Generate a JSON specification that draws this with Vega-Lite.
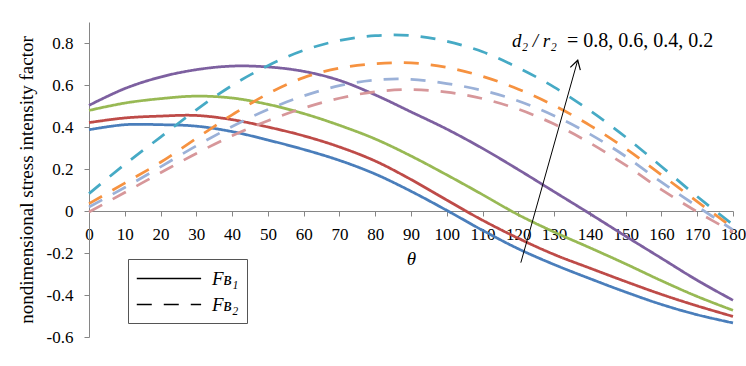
{
  "$schema": "https://vega.github.io/schema/vega-lite/v6.json",
  "width": 644,
  "height": 315,
  "autosize": {"type": "none"},
  "padding": {"left": 89, "top": 22, "right": 13, "bottom": 29},
  "background": "white",
  "config": {
    "view": {"stroke": null},
    "font": "Liberation Serif",
    "axis": {
      "grid": false,
      "domainColor": "#868686",
      "tickColor": "#868686",
      "labelColor": "#000000",
      "titleColor": "#000000",
      "labelFont": "Liberation Serif",
      "titleFont": "Liberation Serif",
      "labelFontSize": 17,
      "titleFontWeight": "normal",
      "labelFlush": false,
      "labelOverlap": false
    }
  },
  "resolve": {"axis": {"x": "independent"}},
  "datasets": {
    "curves": [
      {"theta": 0, "value": 0.387, "series": "FB1 0.8", "factor": "F_B1"},
      {"theta": 10, "value": 0.411, "series": "FB1 0.8", "factor": "F_B1"},
      {"theta": 20, "value": 0.411, "series": "FB1 0.8", "factor": "F_B1"},
      {"theta": 30, "value": 0.404, "series": "FB1 0.8", "factor": "F_B1"},
      {"theta": 40, "value": 0.378, "series": "FB1 0.8", "factor": "F_B1"},
      {"theta": 50, "value": 0.338, "series": "FB1 0.8", "factor": "F_B1"},
      {"theta": 60, "value": 0.293, "series": "FB1 0.8", "factor": "F_B1"},
      {"theta": 70, "value": 0.241, "series": "FB1 0.8", "factor": "F_B1"},
      {"theta": 80, "value": 0.176, "series": "FB1 0.8", "factor": "F_B1"},
      {"theta": 90, "value": 0.094, "series": "FB1 0.8", "factor": "F_B1"},
      {"theta": 100, "value": 0.003, "series": "FB1 0.8", "factor": "F_B1"},
      {"theta": 110, "value": -0.092, "series": "FB1 0.8", "factor": "F_B1"},
      {"theta": 120, "value": -0.18, "series": "FB1 0.8", "factor": "F_B1"},
      {"theta": 130, "value": -0.255, "series": "FB1 0.8", "factor": "F_B1"},
      {"theta": 140, "value": -0.322, "series": "FB1 0.8", "factor": "F_B1"},
      {"theta": 150, "value": -0.386, "series": "FB1 0.8", "factor": "F_B1"},
      {"theta": 160, "value": -0.445, "series": "FB1 0.8", "factor": "F_B1"},
      {"theta": 170, "value": -0.494, "series": "FB1 0.8", "factor": "F_B1"},
      {"theta": 180, "value": -0.533, "series": "FB1 0.8", "factor": "F_B1"},
      {"theta": 0, "value": 0.421, "series": "FB1 0.6", "factor": "F_B1"},
      {"theta": 10, "value": 0.443, "series": "FB1 0.6", "factor": "F_B1"},
      {"theta": 20, "value": 0.452, "series": "FB1 0.6", "factor": "F_B1"},
      {"theta": 30, "value": 0.455, "series": "FB1 0.6", "factor": "F_B1"},
      {"theta": 40, "value": 0.435, "series": "FB1 0.6", "factor": "F_B1"},
      {"theta": 50, "value": 0.4, "series": "FB1 0.6", "factor": "F_B1"},
      {"theta": 60, "value": 0.358, "series": "FB1 0.6", "factor": "F_B1"},
      {"theta": 70, "value": 0.305, "series": "FB1 0.6", "factor": "F_B1"},
      {"theta": 80, "value": 0.238, "series": "FB1 0.6", "factor": "F_B1"},
      {"theta": 90, "value": 0.15, "series": "FB1 0.6", "factor": "F_B1"},
      {"theta": 100, "value": 0.052, "series": "FB1 0.6", "factor": "F_B1"},
      {"theta": 110, "value": -0.044, "series": "FB1 0.6", "factor": "F_B1"},
      {"theta": 120, "value": -0.13, "series": "FB1 0.6", "factor": "F_B1"},
      {"theta": 130, "value": -0.207, "series": "FB1 0.6", "factor": "F_B1"},
      {"theta": 140, "value": -0.272, "series": "FB1 0.6", "factor": "F_B1"},
      {"theta": 150, "value": -0.336, "series": "FB1 0.6", "factor": "F_B1"},
      {"theta": 160, "value": -0.397, "series": "FB1 0.6", "factor": "F_B1"},
      {"theta": 170, "value": -0.452, "series": "FB1 0.6", "factor": "F_B1"},
      {"theta": 180, "value": -0.502, "series": "FB1 0.6", "factor": "F_B1"},
      {"theta": 0, "value": 0.479, "series": "FB1 0.4", "factor": "F_B1"},
      {"theta": 10, "value": 0.514, "series": "FB1 0.4", "factor": "F_B1"},
      {"theta": 20, "value": 0.535, "series": "FB1 0.4", "factor": "F_B1"},
      {"theta": 30, "value": 0.547, "series": "FB1 0.4", "factor": "F_B1"},
      {"theta": 40, "value": 0.538, "series": "FB1 0.4", "factor": "F_B1"},
      {"theta": 50, "value": 0.508, "series": "FB1 0.4", "factor": "F_B1"},
      {"theta": 60, "value": 0.464, "series": "FB1 0.4", "factor": "F_B1"},
      {"theta": 70, "value": 0.408, "series": "FB1 0.4", "factor": "F_B1"},
      {"theta": 80, "value": 0.343, "series": "FB1 0.4", "factor": "F_B1"},
      {"theta": 90, "value": 0.262, "series": "FB1 0.4", "factor": "F_B1"},
      {"theta": 100, "value": 0.172, "series": "FB1 0.4", "factor": "F_B1"},
      {"theta": 110, "value": 0.078, "series": "FB1 0.4", "factor": "F_B1"},
      {"theta": 120, "value": -0.018, "series": "FB1 0.4", "factor": "F_B1"},
      {"theta": 130, "value": -0.1, "series": "FB1 0.4", "factor": "F_B1"},
      {"theta": 140, "value": -0.175, "series": "FB1 0.4", "factor": "F_B1"},
      {"theta": 150, "value": -0.252, "series": "FB1 0.4", "factor": "F_B1"},
      {"theta": 160, "value": -0.332, "series": "FB1 0.4", "factor": "F_B1"},
      {"theta": 170, "value": -0.407, "series": "FB1 0.4", "factor": "F_B1"},
      {"theta": 180, "value": -0.473, "series": "FB1 0.4", "factor": "F_B1"},
      {"theta": 0, "value": 0.503, "series": "FB1 0.2", "factor": "F_B1"},
      {"theta": 10, "value": 0.583, "series": "FB1 0.2", "factor": "F_B1"},
      {"theta": 20, "value": 0.638, "series": "FB1 0.2", "factor": "F_B1"},
      {"theta": 30, "value": 0.673, "series": "FB1 0.2", "factor": "F_B1"},
      {"theta": 40, "value": 0.69, "series": "FB1 0.2", "factor": "F_B1"},
      {"theta": 50, "value": 0.686, "series": "FB1 0.2", "factor": "F_B1"},
      {"theta": 60, "value": 0.665, "series": "FB1 0.2", "factor": "F_B1"},
      {"theta": 70, "value": 0.622, "series": "FB1 0.2", "factor": "F_B1"},
      {"theta": 80, "value": 0.553, "series": "FB1 0.2", "factor": "F_B1"},
      {"theta": 90, "value": 0.472, "series": "FB1 0.2", "factor": "F_B1"},
      {"theta": 100, "value": 0.39, "series": "FB1 0.2", "factor": "F_B1"},
      {"theta": 110, "value": 0.298, "series": "FB1 0.2", "factor": "F_B1"},
      {"theta": 120, "value": 0.197, "series": "FB1 0.2", "factor": "F_B1"},
      {"theta": 130, "value": 0.092, "series": "FB1 0.2", "factor": "F_B1"},
      {"theta": 140, "value": -0.013, "series": "FB1 0.2", "factor": "F_B1"},
      {"theta": 150, "value": -0.12, "series": "FB1 0.2", "factor": "F_B1"},
      {"theta": 160, "value": -0.225, "series": "FB1 0.2", "factor": "F_B1"},
      {"theta": 170, "value": -0.33, "series": "FB1 0.2", "factor": "F_B1"},
      {"theta": 180, "value": -0.425, "series": "FB1 0.2", "factor": "F_B1"},
      {"theta": 0, "value": 0.083, "series": "FB2 0.8", "factor": "F_B2"},
      {"theta": 10, "value": 0.222, "series": "FB2 0.8", "factor": "F_B2"},
      {"theta": 20, "value": 0.352, "series": "FB2 0.8", "factor": "F_B2"},
      {"theta": 30, "value": 0.482, "series": "FB2 0.8", "factor": "F_B2"},
      {"theta": 40, "value": 0.598, "series": "FB2 0.8", "factor": "F_B2"},
      {"theta": 50, "value": 0.692, "series": "FB2 0.8", "factor": "F_B2"},
      {"theta": 60, "value": 0.765, "series": "FB2 0.8", "factor": "F_B2"},
      {"theta": 70, "value": 0.812, "series": "FB2 0.8", "factor": "F_B2"},
      {"theta": 80, "value": 0.835, "series": "FB2 0.8", "factor": "F_B2"},
      {"theta": 90, "value": 0.835, "series": "FB2 0.8", "factor": "F_B2"},
      {"theta": 100, "value": 0.808, "series": "FB2 0.8", "factor": "F_B2"},
      {"theta": 110, "value": 0.758, "series": "FB2 0.8", "factor": "F_B2"},
      {"theta": 120, "value": 0.682, "series": "FB2 0.8", "factor": "F_B2"},
      {"theta": 130, "value": 0.59, "series": "FB2 0.8", "factor": "F_B2"},
      {"theta": 140, "value": 0.478, "series": "FB2 0.8", "factor": "F_B2"},
      {"theta": 150, "value": 0.352, "series": "FB2 0.8", "factor": "F_B2"},
      {"theta": 160, "value": 0.212, "series": "FB2 0.8", "factor": "F_B2"},
      {"theta": 170, "value": 0.069, "series": "FB2 0.8", "factor": "F_B2"},
      {"theta": 180, "value": -0.065, "series": "FB2 0.8", "factor": "F_B2"},
      {"theta": 0, "value": 0.035, "series": "FB2 0.6", "factor": "F_B2"},
      {"theta": 10, "value": 0.133, "series": "FB2 0.6", "factor": "F_B2"},
      {"theta": 20, "value": 0.232, "series": "FB2 0.6", "factor": "F_B2"},
      {"theta": 30, "value": 0.346, "series": "FB2 0.6", "factor": "F_B2"},
      {"theta": 40, "value": 0.458, "series": "FB2 0.6", "factor": "F_B2"},
      {"theta": 50, "value": 0.558, "series": "FB2 0.6", "factor": "F_B2"},
      {"theta": 60, "value": 0.635, "series": "FB2 0.6", "factor": "F_B2"},
      {"theta": 70, "value": 0.68, "series": "FB2 0.6", "factor": "F_B2"},
      {"theta": 80, "value": 0.701, "series": "FB2 0.6", "factor": "F_B2"},
      {"theta": 90, "value": 0.705, "series": "FB2 0.6", "factor": "F_B2"},
      {"theta": 100, "value": 0.684, "series": "FB2 0.6", "factor": "F_B2"},
      {"theta": 110, "value": 0.641, "series": "FB2 0.6", "factor": "F_B2"},
      {"theta": 120, "value": 0.58, "series": "FB2 0.6", "factor": "F_B2"},
      {"theta": 130, "value": 0.502, "series": "FB2 0.6", "factor": "F_B2"},
      {"theta": 140, "value": 0.408, "series": "FB2 0.6", "factor": "F_B2"},
      {"theta": 150, "value": 0.297, "series": "FB2 0.6", "factor": "F_B2"},
      {"theta": 160, "value": 0.172, "series": "FB2 0.6", "factor": "F_B2"},
      {"theta": 170, "value": 0.045, "series": "FB2 0.6", "factor": "F_B2"},
      {"theta": 180, "value": -0.08, "series": "FB2 0.6", "factor": "F_B2"},
      {"theta": 0, "value": 0.019, "series": "FB2 0.4", "factor": "F_B2"},
      {"theta": 10, "value": 0.112, "series": "FB2 0.4", "factor": "F_B2"},
      {"theta": 20, "value": 0.21, "series": "FB2 0.4", "factor": "F_B2"},
      {"theta": 30, "value": 0.31, "series": "FB2 0.4", "factor": "F_B2"},
      {"theta": 40, "value": 0.402, "series": "FB2 0.4", "factor": "F_B2"},
      {"theta": 50, "value": 0.483, "series": "FB2 0.4", "factor": "F_B2"},
      {"theta": 60, "value": 0.548, "series": "FB2 0.4", "factor": "F_B2"},
      {"theta": 70, "value": 0.597, "series": "FB2 0.4", "factor": "F_B2"},
      {"theta": 80, "value": 0.624, "series": "FB2 0.4", "factor": "F_B2"},
      {"theta": 90, "value": 0.627, "series": "FB2 0.4", "factor": "F_B2"},
      {"theta": 100, "value": 0.607, "series": "FB2 0.4", "factor": "F_B2"},
      {"theta": 110, "value": 0.574, "series": "FB2 0.4", "factor": "F_B2"},
      {"theta": 120, "value": 0.524, "series": "FB2 0.4", "factor": "F_B2"},
      {"theta": 130, "value": 0.454, "series": "FB2 0.4", "factor": "F_B2"},
      {"theta": 140, "value": 0.366, "series": "FB2 0.4", "factor": "F_B2"},
      {"theta": 150, "value": 0.26, "series": "FB2 0.4", "factor": "F_B2"},
      {"theta": 160, "value": 0.137, "series": "FB2 0.4", "factor": "F_B2"},
      {"theta": 170, "value": 0.022, "series": "FB2 0.4", "factor": "F_B2"},
      {"theta": 180, "value": -0.09, "series": "FB2 0.4", "factor": "F_B2"},
      {"theta": 0, "value": -0.005, "series": "FB2 0.2", "factor": "F_B2"},
      {"theta": 10, "value": 0.088, "series": "FB2 0.2", "factor": "F_B2"},
      {"theta": 20, "value": 0.182, "series": "FB2 0.2", "factor": "F_B2"},
      {"theta": 30, "value": 0.274, "series": "FB2 0.2", "factor": "F_B2"},
      {"theta": 40, "value": 0.358, "series": "FB2 0.2", "factor": "F_B2"},
      {"theta": 50, "value": 0.43, "series": "FB2 0.2", "factor": "F_B2"},
      {"theta": 60, "value": 0.49, "series": "FB2 0.2", "factor": "F_B2"},
      {"theta": 70, "value": 0.537, "series": "FB2 0.2", "factor": "F_B2"},
      {"theta": 80, "value": 0.568, "series": "FB2 0.2", "factor": "F_B2"},
      {"theta": 90, "value": 0.578, "series": "FB2 0.2", "factor": "F_B2"},
      {"theta": 100, "value": 0.566, "series": "FB2 0.2", "factor": "F_B2"},
      {"theta": 110, "value": 0.535, "series": "FB2 0.2", "factor": "F_B2"},
      {"theta": 120, "value": 0.485, "series": "FB2 0.2", "factor": "F_B2"},
      {"theta": 130, "value": 0.414, "series": "FB2 0.2", "factor": "F_B2"},
      {"theta": 140, "value": 0.324, "series": "FB2 0.2", "factor": "F_B2"},
      {"theta": 150, "value": 0.218, "series": "FB2 0.2", "factor": "F_B2"},
      {"theta": 160, "value": 0.102, "series": "FB2 0.2", "factor": "F_B2"},
      {"theta": 170, "value": -0.004, "series": "FB2 0.2", "factor": "F_B2"},
      {"theta": 180, "value": -0.1, "series": "FB2 0.2", "factor": "F_B2"}
    ],
    "arrow": [
      {"theta": 120.7, "value": -0.246, "theta2": 136.6, "value2": 0.718}
    ],
    "notes": [
      {"theta": 118.2, "value": 0.781, "part": "ratio", "text": "d₂ / r₂"},
      {"theta": 133.6, "value": 0.781, "part": "values", "text": "= 0.8, 0.6, 0.4, 0.2"}
    ]
  },
  "layer": [
    {
      "data": {"name": "curves"},
      "mark": {"type": "line", "strokeWidth": 2.75, "interpolate": "catmull-rom"},
      "encoding": {
        "x": {
          "field": "theta", "type": "quantitative",
          "scale": {"domain": [0, 180], "nice": false, "zero": false},
          "title": "θ",
          "axis": {
            "orient": "bottom",
            "values": [0, 20, 40, 60, 80, 100, 120, 140, 160, 180],
            "offset": -126, "domain": true, "tickSize": 5, "labelPadding": 10,
            "labelFlush": false, "labelOverlap": false,
            "titleFontStyle": "italic", "titleFontSize": 19, "titlePadding": 7
          }
        },
        "y": {
          "field": "value", "type": "quantitative",
          "scale": {"domain": [-0.6, 0.9], "nice": false, "zero": false},
          "title": "nondimensional stress intensity factor",
          "axis": {
            "values": [-0.6, -0.4, -0.2, 0, 0.2, 0.4, 0.6, 0.8],
            "labelExpr": "toString(datum.value)",
            "tickSize": 5, "labelPadding": 11, "labelFlush": false,
            "titleFontSize": 19, "titlePadding": 10
          }
        },
        "color": {
          "field": "series", "type": "nominal",
          "scale": {
            "domain": ["FB1 0.8", "FB1 0.6", "FB1 0.4", "FB1 0.2", "FB2 0.8", "FB2 0.6", "FB2 0.4", "FB2 0.2"],
            "range": ["#4A7EBB", "#BE4B48", "#98B954", "#7D60A0", "#46AAC5", "#F69240", "#9BB1D8", "#D7979A"]
          },
          "legend": null
        },
        "strokeDash": {
          "field": "factor", "type": "nominal",
          "scale": {"domain": ["F_B1", "F_B2"], "range": [[1, 0], [15, 12]]},
          "legend": {
            "orient": "none", "legendX": 39, "legendY": 237, "title": null,
            "symbolType": "M-1,0L5,0", "symbolSize": 460, "symbolStrokeWidth": 1.3,
            "symbolStrokeColor": "black",
            "labelFont": "Liberation Serif", "labelFontStyle": "italic", "labelFontSize": 19,
            "labelColor": "black", "labelOffset": 53,
            "padding": 8, "rowPadding": 4,
            "strokeColor": "#555555", "fillColor": "white",
            "labelExpr": "datum.label == 'F_B1' ? 'Fʙ₁\u00a0\u00a0\u00a0' : 'Fʙ₂\u00a0\u00a0\u00a0'"
          }
        }
      }
    },
    {
      "data": {"name": "arrow"},
      "mark": {"type": "rule", "color": "black", "strokeWidth": 1},
      "encoding": {
        "x": {
          "field": "theta", "type": "quantitative",
          "axis": {
            "orient": "bottom",
            "values": [10, 30, 50, 70, 90, 110, 130, 150, 170],
            "offset": -126, "domain": false, "tickSize": 5, "labelPadding": 10,
            "labelFlush": false, "labelOverlap": false, "title": null
          }
        },
        "y": {"field": "value", "type": "quantitative", "title": "nondimensional stress intensity factor"},
        "x2": {"field": "theta2"},
        "y2": {"field": "value2"}
      }
    },
    {
      "data": {"name": "arrow"},
      "mark": {"type": "point", "shape": "M-0.7,1.2L0,0L0.7,1.2", "filled": false, "stroke": "black", "strokeWidth": 1.2, "size": 220, "angle": 15.6, "opacity": 1},
      "encoding": {
        "x": {"field": "theta2", "type": "quantitative", "axis": null},
        "y": {"field": "value2", "type": "quantitative", "title": "nondimensional stress intensity factor"}
      }
    },
    {
      "data": {"name": "notes"},
      "transform": [{"filter": "datum.part == 'ratio'"}],
      "mark": {"type": "text", "align": "left", "baseline": "alphabetic", "font": "Liberation Serif", "fontSize": 19, "fontStyle": "italic", "color": "black"},
      "encoding": {
        "x": {"field": "theta", "type": "quantitative", "axis": null},
        "y": {"field": "value", "type": "quantitative", "title": "nondimensional stress intensity factor"},
        "text": {"field": "text"}
      }
    },
    {
      "data": {"name": "notes"},
      "transform": [{"filter": "datum.part == 'values'"}],
      "mark": {"type": "text", "align": "left", "baseline": "alphabetic", "font": "Liberation Serif", "fontSize": 20, "color": "black"},
      "encoding": {
        "x": {"field": "theta", "type": "quantitative", "axis": null},
        "y": {"field": "value", "type": "quantitative", "title": "nondimensional stress intensity factor"},
        "text": {"field": "text"}
      }
    }
  ]
}
